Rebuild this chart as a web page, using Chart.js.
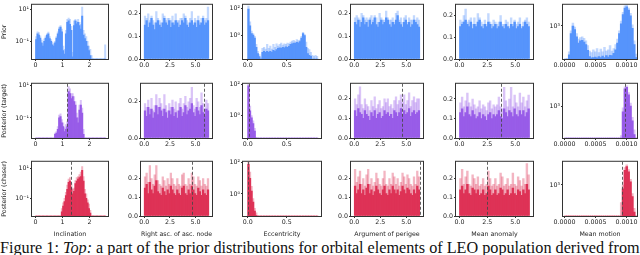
<!DOCTYPE html>
<html><head><meta charset="utf-8">
<script src="https://cdn.jsdelivr.net/npm/chart.js@4.4.0/dist/chart.umd.min.js"></script>
<style>
html,body{margin:0;padding:0;background:#fff;overflow:hidden;width:640px;height:255px;position:relative;}
canvas{position:absolute;}
#cap{position:absolute;left:0;top:240px;font-family:"Liberation Serif","DejaVu Serif",serif;font-size:16.2px;line-height:16.5px;white-space:nowrap;color:#111;}
</style></head><body>
<div id="cap">Figure 1: <i>Top:</i> a part of the prior distributions for orbital elements of LEO population derived from</div>
<script>
// ---------- bins (histogram bin centres) ----------
const incBins=[0.025,0.075,0.125,0.175,0.225,0.275,0.325,0.375,0.425,0.475,
0.525,0.575,0.625,0.675,0.725,0.775,0.825,0.875,0.925,0.975,
1.025,1.075,1.125,1.175,1.225,1.275,1.325,1.375,1.425,1.475,
1.525,1.575,1.625,1.675,1.725,1.775,1.825,1.875,1.925,1.975,
2.025,2.075,2.125,2.175,2.225,2.275,2.325,2.375,2.425,2.475,
2.525,2.575];
const angBins=[0.079,0.236,0.393,0.550,0.707,0.864,1.021,1.178,1.335,1.492,
1.649,1.806,1.963,2.120,2.278,2.435,2.592,2.749,2.906,3.063,
3.220,3.377,3.534,3.691,3.848,4.006,4.163,4.320,4.477,4.634,
4.791,4.948,5.105,5.262,5.419,5.576,5.733,5.890,6.048,6.205];
const eccBins=[0.01,0.03,0.05,0.07,0.09,0.11,0.13,0.15,0.17,0.19,
0.21,0.23,0.25,0.27,0.29,0.31,0.33,0.35,0.37,0.39,
0.41,0.43,0.45,0.47,0.49,0.51,0.53,0.55,0.57,0.59,
0.61,0.63,0.65,0.67,0.69,0.71,0.73,0.75,0.77,0.79,
0.81,0.83,0.85,0.87,0.89];
const mmBins=[0.000015,0.000045,0.000075,0.000105,0.000135,0.000165,0.000195,0.000225,0.000255,0.000285,
0.000315,0.000345,0.000375,0.000405,0.000435,0.000465,0.000495,0.000525,0.000555,0.000585,
0.000615,0.000645,0.000675,0.000705,0.000735,0.000765,0.000795,0.000825,0.000855,0.000885,
0.000915,0.000945,0.000975,0.001005,0.001035,0.001065,0.001095,0.001125,0.001155];

// ---------- tick labels / titles ----------
const incTicks=[0,1,2];
const angTicks=[0,2.5,5];
const eccTicks=[0,0.5];
const mmTicks=[0,0.0005,0.001];
const xTitles=['Inclination','Right asc. of asc. node','Eccentricity','Argument of perigee','Mean anomaly','Mean motion'];
const rowTitles=['Prior','Posterior (target)','Posterior (chaser)'];
const logTickVals=[[0.1,10],null,[1,100],null,null,[1000]];
const logTickLabels=[['10⁻¹','10¹'],null,['10⁰','10²'],null,null,['10³']];
const linTicks=[0,0.1,0.2];
const linTicksCoarse=[0,0.2];

// ---------- Prior ----------
const priorInc=[0.13,0.3,0.25,0.16,0.08,0.05,0.1,0.16,0.25,0.3,
0.15,0.1,0.06,0.05,0.08,0.16,0.3,0.6,0.8,0.4,
0.025,0.015,0.3,1.6,2,1.2,0.5,0.01,1,2,
1.3,1.6,1,0.6,4,0.25,0.15,0.1,0.05,0.025,
0.012,0,0,0,0,0,0,0,0,0,
0,0];
const priorIncLight=[0.2,0.4,0.35,0.22,0.12,0.07,0.14,0.22,0.3,0.38,
0.2,0.13,0.09,0.07,0.1,0.2,0.4,0.8,1,0.6,
0.05,0.03,0.5,2.5,3,2.5,0.9,0.02,2,2.5,
1.8,2.5,1.6,1.2,15,0.5,0.3,0.2,0.1,0.05,
0.03,0.012,0,0,0,0,0,0,0,0,
0,0.06];
const priorRaan=[0.15,0.17,0.14,0.16,0.18,0.15,0.13,0.16,0.17,0.15,
0.14,0.16,0.18,0.16,0.15,0.17,0.14,0.16,0.15,0.17,
0.16,0.14,0.15,0.17,0.16,0.18,0.15,0.14,0.16,0.17,
0.15,0.16,0.14,0.17,0.15,0.16,0.18,0.15,0.16,0.17];
const priorRaanLight=[0.19,0.18,0.20,0.17,0.19,0.17,0.16,0.21,0.18,0.17,
0.16,0.20,0.19,0.17,0.18,0.18,0.17,0.19,0.16,0.20,
0.17,0.17,0.18,0.18,0.20,0.19,0.17,0.16,0.18,0.21,
0.16,0.18,0.17,0.19,0.16,0.18,0.19,0.17,0.18,0.23];
const priorEcc=[90,5,1.3,1.0,0.6,0.12,0.04,0.024,0,0.05,
0.06,0.05,0.06,0.05,0.06,0.05,0.07,0.06,0.08,0.1,
0.11,0.1,0.12,0.11,0.13,0.12,0.14,0.2,0.22,0.25,
0.24,0.28,0.26,0.32,0.6,1.3,0.9,0.12,0.04,0.03,
0.025,0,0,0,0];
const priorEccLight=[150,10,2,1.3,0.8,0.2,0.06,0.035,0.02,0.1,
0.12,0.09,0.2,0.1,0.15,0.09,0.2,0.12,0.22,0.15,
0.2,0.25,0.18,0.22,0.2,0.25,0.22,0.3,0.35,0.4,
0.33,0.45,0.38,0.42,0.8,1.6,1.1,0.3,0.1,0.08,
0.05,0.03,0.025,0.03,0.025];
const priorAop=[0.16,0.15,0.17,0.14,0.16,0.18,0.15,0.16,0.14,0.17,
0.15,0.16,0.18,0.15,0.14,0.16,0.17,0.15,0.16,0.18,
0.17,0.15,0.14,0.16,0.15,0.17,0.19,0.16,0.15,0.14,
0.16,0.17,0.15,0.16,0.14,0.15,0.17,0.16,0.15,0.14];
const priorAopLight=[0.18,0.19,0.18,0.17,0.20,0.19,0.17,0.18,0.17,0.18,
0.19,0.17,0.19,0.18,0.16,0.20,0.18,0.17,0.17,0.21,
0.18,0.17,0.17,0.18,0.16,0.20,0.21,0.17,0.18,0.16,
0.18,0.19,0.16,0.18,0.17,0.17,0.19,0.17,0.18,0.17];
const priorMa=[0.15,0.16,0.17,0.18,0.16,0.15,0.17,0.14,0.16,0.15,
0.17,0.18,0.15,0.14,0.16,0.15,0.17,0.16,0.14,0.15,
0.16,0.14,0.15,0.17,0.15,0.14,0.16,0.15,0.14,0.16,
0.15,0.17,0.14,0.15,0.16,0.14,0.15,0.17,0.16,0.15];
const priorMaLight=[0.18,0.17,0.20,0.23,0.17,0.18,0.19,0.16,0.19,0.16,
0.21,0.19,0.17,0.16,0.18,0.16,0.21,0.17,0.16,0.18,
0.17,0.16,0.17,0.20,0.16,0.16,0.18,0.17,0.15,0.19,
0.16,0.18,0.16,0.17,0.19,0.15,0.17,0.18,0.19,0.17];
const priorMm=[0,0,260,700,1000,850,600,450,500,510,
470,420,320,240,225,230,235,225,240,230,
245,230,250,235,255,250,280,330,450,700,
1100,1700,2300,2450,2100,1600,900,420,230];
const priorMmLight=[0,0,300,800,1150,950,700,540,580,600,
560,500,400,310,290,330,300,350,290,340,
300,370,310,330,400,310,350,420,540,800,
1250,1900,2550,2650,2300,1800,1050,500,270];

// ---------- Posterior (target) ----------
const targetInc=[0,0,0,0,0,0,0,0,0,0,
0,0,0,0,0.01,0.012,0.02,0.1,0.12,0.05,
0.03,0.015,0.02,0.03,4,3,1.5,2,1,0.6,
0.1,0.05,0.3,0.6,0.2,0.01,0,0,0,0,
0,0,0,0,0,0,0,0,0,0,
0,0];
const targetIncLight=[0,0,0,0,0,0,0,0,0,0,
0,0,0,0,0.012,0.015,0.03,0.15,0.18,0.08,
0.05,0.025,0.04,0.06,8,6,3,3,2,1,
0.2,0.1,0.6,1.2,0.4,0.02,0,0,0,0,
0,0,0,0,0,0,0,0,0,0,
0,0];
const targetRaan=[0.15,0.12,0.17,0.13,0.16,0.11,0.14,0.18,0.13,0.17,
0.15,0.12,0.16,0.14,0.11,0.15,0.13,0.17,0.12,0.14,
0.11,0.15,0.17,0.12,0.14,0.18,0.13,0.15,0.16,0.19,
0.14,0.12,0.17,0.15,0.13,0.18,0.14,0.12,0.16,0.15];
const targetRaanLight=[0.19,0.17,0.21,0.16,0.22,0.15,0.18,0.24,0.17,0.22,
0.19,0.16,0.24,0.18,0.15,0.19,0.17,0.21,0.16,0.20,
0.15,0.19,0.22,0.16,0.19,0.23,0.17,0.20,0.22,0.28,
0.18,0.16,0.22,0.20,0.17,0.25,0.19,0.16,0.21,0.19];
const targetEcc=[80,2,0.7,0.3,0.1,0,0,0,0,0,
0,0,0,0,0,0,0,0,0,0,
0,0,0,0,0,0,0,0,0,0,
0,0,0,0,0,0,0,0,0,0,
0,0,0,0,0];
const targetEccLight=[100,4,1,0.45,0.15,0.04,0,0,0,0,
0,0,0,0,0,0,0,0,0,0,
0,0,0,0,0,0,0,0,0,0,
0,0,0,0,0,0,0,0,0,0,
0,0,0,0,0];
const targetAop=[0.14,0.11,0.15,0.13,0.12,0.10,0.14,0.12,0.11,0.09,
0.13,0.11,0.14,0.10,0.12,0.13,0.10,0.11,0.14,0.12,
0.13,0.11,0.12,0.10,0.14,0.13,0.11,0.13,0.15,0.12,
0.14,0.12,0.13,0.15,0.11,0.13,0.14,0.12,0.13,0.14];
const targetAopLight=[0.20,0.17,0.22,0.26,0.17,0.15,0.20,0.17,0.16,0.14,
0.19,0.16,0.21,0.15,0.17,0.19,0.15,0.16,0.20,0.18,
0.20,0.16,0.17,0.15,0.19,0.21,0.17,0.19,0.22,0.18,
0.22,0.17,0.19,0.23,0.16,0.19,0.21,0.18,0.20,0.20];
const targetMa=[0.13,0.15,0.11,0.13,0.16,0.12,0.11,0.14,0.12,0.10,
0.11,0.13,0.10,0.12,0.11,0.09,0.12,0.13,0.10,0.12,
0.11,0.12,0.14,0.11,0.10,0.15,0.13,0.11,0.14,0.13,
0.11,0.15,0.12,0.11,0.14,0.12,0.14,0.11,0.13,0.15];
const targetMaLight=[0.18,0.21,0.16,0.19,0.23,0.18,0.16,0.20,0.17,0.15,
0.16,0.19,0.15,0.17,0.16,0.14,0.18,0.19,0.15,0.17,
0.16,0.17,0.21,0.16,0.15,0.26,0.19,0.16,0.20,0.26,
0.16,0.22,0.18,0.16,0.23,0.18,0.21,0.16,0.19,0.22];
const targetMm=[0,0,0,0,0,0,0,0,0,0,
0,0,0,0,0,0,0,0,0,0,
0,0,0,0,0,0,0,0,0,0,
0,700,2900,3200,2000,1000,400,170,0];
const targetMmLight=[0,0,0,0,0,0,0,0,0,0,
0,0,0,0,0,0,0,0,0,0,
0,0,0,0,0,0,0,0,0,0,
160,900,3300,3500,2300,1200,500,230,0];

// ---------- Posterior (chaser) ----------
const chaserInc=[0,0,0,0,0,0,0,0,0,0,
0,0,0,0,0,0,0,0,0,0.012,
0.03,0.06,0.15,0.4,1.2,1.5,0.5,0.2,0.3,1,
1.5,2,2.5,3,8,1.5,0.2,0.1,0.05,0.02,
0.01,0,0,0,0,0,0,0,0,0,
0,0];
const chaserIncLight=[0,0,0,0,0,0,0,0,0,0,
0,0,0,0,0,0,0,0,0,0.02,
0.05,0.1,0.25,0.8,2,2.5,1,0.4,0.5,1.6,
2.5,3,4,6,14,3,0.4,0.2,0.08,0.04,
0.015,0,0,0,0,0,0,0,0,0,
0,0];
const chaserRaan=[0.15,0.17,0.12,0.18,0.14,0.12,0.16,0.19,0.13,0.12,
0.11,0.15,0.13,0.11,0.14,0.12,0.16,0.14,0.12,0.11,
0.14,0.12,0.11,0.15,0.16,0.12,0.11,0.14,0.12,0.16,
0.14,0.12,0.11,0.15,0.13,0.11,0.14,0.12,0.11,0.14];
const chaserRaanLight=[0.21,0.23,0.18,0.27,0.20,0.17,0.22,0.27,0.19,0.17,
0.16,0.21,0.19,0.16,0.20,0.17,0.23,0.20,0.17,0.16,
0.20,0.17,0.16,0.22,0.23,0.17,0.16,0.20,0.17,0.23,
0.21,0.17,0.16,0.21,0.19,0.16,0.20,0.17,0.16,0.20];
const chaserEcc=[80,10,1.5,0.3,0.08,0.04,0,0,0,0,
0,0,0,0,0,0,0,0,0,0,
0,0,0,0,0,0,0,0,0,0,
0,0,0,0,0,0,0,0,0,0,
0,0,0,0,0];
const chaserEccLight=[110,25,3,0.5,0.12,0.06,0,0,0,0,
0,0,0,0,0,0,0,0,0,0,
0,0,0,0,0,0,0,0,0,0,
0,0,0,0,0,0,0,0,0,0,
0,0,0,0,0];
const chaserAop=[0.16,0.12,0.14,0.17,0.12,0.14,0.11,0.15,0.17,0.12,
0.14,0.11,0.13,0.16,0.14,0.12,0.11,0.14,0.16,0.12,
0.11,0.14,0.12,0.16,0.14,0.12,0.14,0.11,0.13,0.16,
0.14,0.12,0.15,0.14,0.12,0.11,0.14,0.12,0.16,0.14];
const chaserAopLight=[0.25,0.18,0.21,0.24,0.17,0.20,0.16,0.22,0.25,0.17,
0.20,0.16,0.18,0.23,0.20,0.17,0.16,0.20,0.24,0.17,
0.16,0.20,0.17,0.23,0.21,0.17,0.20,0.16,0.18,0.23,
0.21,0.17,0.22,0.20,0.17,0.16,0.21,0.17,0.24,0.21];
const chaserMa=[0.14,0.16,0.12,0.14,0.17,0.12,0.11,0.15,0.14,0.12,
0.14,0.11,0.12,0.14,0.11,0.12,0.16,0.14,0.11,0.12,
0.14,0.11,0.12,0.15,0.14,0.11,0.12,0.14,0.11,0.12,
0.15,0.12,0.11,0.14,0.13,0.11,0.14,0.12,0.17,0.14];
const chaserMaLight=[0.20,0.25,0.17,0.21,0.24,0.17,0.16,0.22,0.20,0.17,
0.21,0.16,0.17,0.20,0.16,0.17,0.24,0.20,0.16,0.17,
0.20,0.16,0.17,0.23,0.21,0.16,0.17,0.20,0.16,0.17,
0.23,0.17,0.16,0.21,0.19,0.16,0.20,0.17,0.28,0.22];
const chaserMm=[0,0,0,0,0,0,0,0,0,0,
0,0,0,0,0,0,0,0,0,0,
0,0,0,0,0,0,0,0,0,0,
0,800,2400,3000,2200,1200,500,200,0];
const chaserMmLight=[0,0,0,0,0,0,0,0,0,0,
0,0,0,0,0,0,0,0,0,0,
0,0,0,0,0,0,0,0,0,0,
350,1000,2800,3300,2500,1400,600,250,0];

// true values (dashed lines)
const targetTruth=[1.15,5.8,0.02,4.55,3.75,0.00097];
const chaserTruth=[1.31,4.69,0.005,6.35,2.48,0.00092];

// axis ranges
const xMins=[-0.13,-0.314,-0.06,-0.314,-0.314,-0.000025];
const xMaxs=[2.68,6.597,0.94,6.597,6.597,0.00117];
const yMinPrior=[0.0074,0,0.016,0,0,214];
const yMaxPrior=[21,0.24,186,0.237,0.25,2690];
const yMinTarget=[0.006,0,0.036,0,0,138];
const yMaxTarget=[12,0.30,110,0.276,0.278,3981];
const yMinChaser=[0.0063,0,0.038,0,0,158];
const yMaxChaser=[30,0.29,115,0.29,0.29,3981];

// ---------- assembly ----------
const colBins=[incBins,angBins,eccBins,angBins,angBins,mmBins];
const colXTicks=[incTicks,angTicks,eccTicks,angTicks,angTicks,mmTicks];
const colDecimals=[0,1,1,1,1,4];
const isLog=[true,false,true,false,false,true];
const panelData=[
 [[priorInc,priorIncLight],[priorRaan,priorRaanLight],[priorEcc,priorEccLight],[priorAop,priorAopLight],[priorMa,priorMaLight],[priorMm,priorMmLight]],
 [[targetInc,targetIncLight],[targetRaan,targetRaanLight],[targetEcc,targetEccLight],[targetAop,targetAopLight],[targetMa,targetMaLight],[targetMm,targetMmLight]],
 [[chaserInc,chaserIncLight],[chaserRaan,chaserRaanLight],[chaserEcc,chaserEccLight],[chaserAop,chaserAopLight],[chaserMa,chaserMaLight],[chaserMm,chaserMmLight]]
];
const yMins=[yMinPrior,yMinTarget,yMinChaser];
const yMaxs=[yMaxPrior,yMaxTarget,yMaxChaser];
const truths=[null,targetTruth,chaserTruth];

const rowColors=[['rgb(86,148,252)','rgba(86,148,252,0.36)'],
                 ['rgb(152,92,232)','rgba(152,92,232,0.36)'],
                 ['rgb(222,50,86)','rgba(222,50,86,0.36)']];
const colL=[32,141,243,351,456,563], colR=[108,212,321,423,533,637];
const rowT=[3,82,160], rowB=[59,138,216];
const FONT={family:'"DejaVu Sans", sans-serif',size:6.3};
const TXT='#222', AX='#333';

const framePlugin={id:'frame',afterDraw(ch){const a=ch.chartArea,c=ch.ctx;c.save();c.strokeStyle=AX;c.lineWidth=1;
  c.strokeRect(a.left-0.5,a.top-0.5,a.right-a.left+1,a.bottom-a.top+1);c.restore();}};
const truthPlugin={id:'truth',afterDatasetsDraw(ch,args,opts){if(opts.value==null)return;
  const a=ch.chartArea,c=ch.ctx,x=ch.scales.x.getPixelForValue(opts.value);
  c.save();c.beginPath();c.rect(a.left,a.top,a.right-a.left,a.bottom-a.top);c.clip();
  c.strokeStyle='rgba(70,70,70,0.85)';c.lineWidth=1;c.setLineDash([3,2]);
  c.beginPath();c.moveTo(Math.round(x)+0.5,a.top);c.lineTo(Math.round(x)+0.5,a.bottom);c.stroke();c.restore();}};

for(let r=0;r<3;r++){for(let c=0;c<6;c++){
  const bl=colL[c],br=colR[c],bt=rowT[r],bb=rowB[r];
  const yW=(c===0)?bl:30, xH=(r===2)?22:14, padT=3, padR=5;
  const cv=document.createElement('canvas');
  const W=(br-bl)+yW+padR, H=(bb-bt)+padT+xH;
  cv.width=W;cv.height=H;
  cv.style.left=(bl-yW)+'px';cv.style.top=(bt-padT)+'px';cv.style.width=W+'px';cv.style.height=H+'px';
  document.body.appendChild(cv);
  const bins=colBins[c];
  const [dark,light]=panelData[r][c];
  const pts=arr=>bins.map((b,i)=>({x:b,y:arr[i]}));
  const barOpts={grouped:false,barPercentage:1,categoryPercentage:1,borderWidth:0,clip:0};
  let yTickVals, yLabel;
  if(isLog[c]){yTickVals=logTickVals[c];const lb=logTickLabels[c];yLabel=v=>{const i=yTickVals.indexOf(v);return i>=0?lb[i]:'';};}
  else{yTickVals=(r===1&&c===1)?linTicksCoarse:linTicks;yLabel=v=>Number(v).toFixed(1);}
  const xt=colXTicks[c],dec=colDecimals[c];
  new Chart(cv,{
    type:'bar',
    data:{datasets:[
      Object.assign({data:pts(dark),backgroundColor:rowColors[r][0],order:0},barOpts),
      Object.assign({data:pts(light),backgroundColor:rowColors[r][1],order:1},barOpts)
    ]},
    options:{
      responsive:false,animation:false,events:[],devicePixelRatio:1,
      layout:{padding:{top:padT,right:padR,left:0,bottom:0}},
      plugins:{legend:{display:false},tooltip:{enabled:false},truth:{value:truths[r]?truths[r][c]:null}},
      scales:{
        x:{type:'linear',min:xMins[c],max:xMaxs[c],offset:false,
          grid:{display:true,drawOnChartArea:false,drawTicks:true,tickLength:2,color:AX,offset:false},
          border:{display:false},
          ticks:{font:FONT,color:TXT,padding:1,maxRotation:0,minRotation:0,autoSkip:false,callback:v=>Number(v).toFixed(dec)},
          afterBuildTicks:s=>{s.ticks=xt.map(v=>({value:v}));},
          afterFit:s=>{s.height=xH;},
          title:{display:r===2,text:xTitles[c],font:FONT,color:TXT,padding:{top:0,bottom:0}}},
        y:{type:isLog[c]?'logarithmic':'linear',min:yMins[r][c],max:yMaxs[r][c],
          grid:{display:true,drawOnChartArea:false,drawTicks:true,tickLength:2,color:AX},
          border:{display:false},
          ticks:{font:FONT,color:TXT,padding:1,autoSkip:false,callback:yLabel},
          afterBuildTicks:s=>{s.ticks=yTickVals.map(v=>({value:v}));},
          afterFit:s=>{s.width=yW;},
          title:{display:c===0,text:rowTitles[r],font:FONT,color:TXT,padding:{top:1,bottom:0}}}
      }
    },
    plugins:[framePlugin,truthPlugin]
  });
}}
</script>
</body></html>
